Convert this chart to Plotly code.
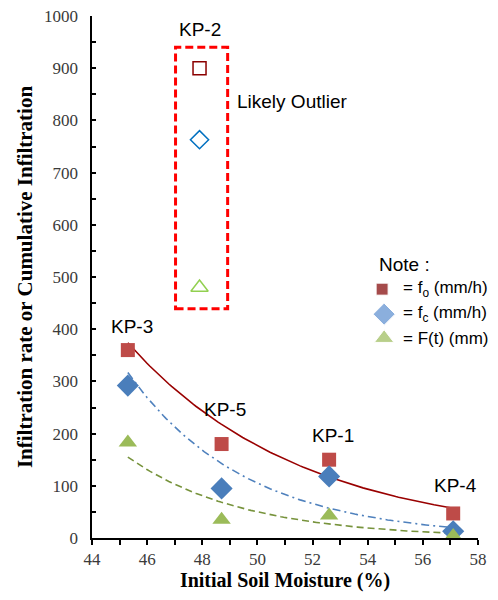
import numpy as np
import plotly.graph_objects as go

# ---- data ----
sites = ["KP-3", "KP-5", "KP-1", "KP-4"]
moisture = [45.3, 48.7, 52.6, 57.1]
f_o = [360, 180, 150, 47]          # initial infiltration rate (mm/h)
f_c = [292, 95, 118, 13]           # final infiltration rate (mm/h)
F_t = [183, 35, 43, 4]             # cumulative infiltration (mm)

outlier_site = "KP-2"
outlier_moisture = [47.9]
outlier_f_o = [900]
outlier_f_c = [763]
outlier_F_t = [480]

# exponential trend lines  y = a * exp(b * (x - x0))
trend_x0, trend_x1 = 45.3, 57.1
trend_fo = (374, -0.1594)
trend_fc = (317, -0.235)
trend_F = (155, -0.241)

# site label positions (data units)
label_x = [45.45, 48.82, 52.75, 57.17]
label_y = [406, 247, 197, 101]

# "Note :" key
note_labels = ["= f<sub>o</sub> (mm/h)", "= f<sub>c</sub> (mm/h)", "= F(t) (mm)"]
note_symbols = ["square", "diamond", "triangle-up"]
note_colors = ["#800000", "#5B8ED0", "#9BBB59"]
note_sizes = [12, 17, 17]

# ---- layout positions for the key (paper units) ----
note_title_pos = (0.7386, 0.5246)
note_key_x = [0.7516, 0.7568, 0.7568]
note_row_y = [0.4767, 0.4288, 0.3828]
note_text_x = 0.800

fig = go.Figure()
xs = np.linspace(trend_x0, trend_x1, 120)


def trend(p):
    a, b = p
    return a * np.exp(b * (xs - trend_x0))


fig.add_trace(go.Scatter(x=xs, y=trend(trend_fo), mode="lines", showlegend=False,
                         line=dict(color="#990000", width=1.6), hoverinfo="skip"))
fig.add_trace(go.Scatter(x=xs, y=trend(trend_fc), mode="lines", showlegend=False,
                         line=dict(color="#4F81BD", width=1.6, dash="8px,4px,2px,4px"), hoverinfo="skip"))
fig.add_trace(go.Scatter(x=xs, y=trend(trend_F), mode="lines", showlegend=False,
                         line=dict(color="#77933C", width=1.6, dash="7px,4px"), hoverinfo="skip"))

fig.add_trace(go.Scatter(x=moisture, y=f_o, mode="markers", showlegend=False, text=sites,
                         marker=dict(symbol="square", size=14, color="#BE4B48")))
fig.add_trace(go.Scatter(x=moisture, y=f_c, mode="markers", showlegend=False, text=sites,
                         marker=dict(symbol="diamond", size=17, color="#4A7EBB")))
fig.add_trace(go.Scatter(x=moisture, y=F_t, mode="markers", showlegend=False, text=sites,
                         marker=dict(symbol="triangle-up", size=16, color="#9BBB59")))

fig.add_trace(go.Scatter(x=outlier_moisture, y=outlier_f_o, mode="markers", showlegend=False,
                         marker=dict(symbol="square-open", size=13, color="#8B0000", line=dict(width=1.5))))
fig.add_trace(go.Scatter(x=outlier_moisture, y=outlier_f_c, mode="markers", showlegend=False,
                         marker=dict(symbol="diamond-open", size=14, color="#0070C0", line=dict(width=1.5))))
fig.add_trace(go.Scatter(x=outlier_moisture, y=outlier_F_t, mode="markers", showlegend=False,
                         marker=dict(symbol="triangle-up-open", size=15, color="#92D050", line=dict(width=1.5))))

# key symbols on an overlay axis in paper units
fig.add_trace(go.Scatter(x=note_key_x, y=note_row_y, xaxis="x2", yaxis="y2", mode="markers",
                         showlegend=False, hoverinfo="skip", cliponaxis=False,
                         marker=dict(symbol=note_symbols, size=note_sizes, color=note_colors)))

# outlier box
fig.add_shape(type="rect", x0=47.03, x1=48.92, y0=439, y1=940, xref="x", yref="y",
              line=dict(color="#FF0000", width=3, dash="8px,4px"))

ann_font = dict(family="Liberation Sans, Arial", size=19, color="#000000")
for s, x, y in zip(sites, label_x, label_y):
    fig.add_annotation(x=x, y=y, text=s, showarrow=False, font=ann_font)
fig.add_annotation(x=outlier_moisture[0], y=974, text=outlier_site, showarrow=False, font=ann_font)
fig.add_annotation(x=49.2, y=836, text="Likely Outlier", showarrow=False, font=ann_font,
                   xanchor="left")
fig.add_annotation(x=note_title_pos[0], y=note_title_pos[1], xref="paper", yref="paper",
                   text="Note :", showarrow=False, font=ann_font, xanchor="left", yanchor="middle")
for t, y in zip(note_labels, note_row_y):
    fig.add_annotation(x=note_text_x, y=y, xref="paper", yref="paper", text=t, showarrow=False,
                       font=dict(family="Liberation Sans, Arial", size=17, color="#000000"),
                       xanchor="left", yanchor="middle")

tick_font = dict(family="Liberation Serif, Times New Roman", size=17, color="#3a3a3a")

# the page body adds an 8px margin, so the figure is sized to fit inside it
fig.update_layout(
    width=482, height=584,
    margin=dict(l=84, r=12, t=8, b=54, autoexpand=False),
    paper_bgcolor="white", plot_bgcolor="white",
    showlegend=False,
    xaxis=dict(range=[44, 58], dtick=2, tick0=44, showgrid=False, zeroline=False,
               showline=True, linecolor="black", linewidth=2, automargin=False,
               ticks="outside", ticklen=5, tickwidth=2, tickcolor="black",
               minor=dict(dtick=1, ticks="outside", ticklen=5, tickwidth=2, tickcolor="black"),
               tickfont=tick_font, ticklabeloverflow="allow",
               title=dict(text="<b>Initial Soil Moisture (%)</b>",
                          font=dict(family="Liberation Serif, Times New Roman", size=20, color="#000"),
                          standoff=14)),
    yaxis=dict(range=[0, 1000], dtick=100, showgrid=False, zeroline=False,
               showline=True, linecolor="black", linewidth=2, automargin=False,
               ticks="inside", ticklen=4, tickwidth=2, tickcolor="black",
               minor=dict(dtick=50, ticks="inside", ticklen=4, tickwidth=2, tickcolor="black"),
               tickfont=tick_font, ticklabeloverflow="allow", ticksuffix="\u2002",
               title=dict(text="<b>Infiltration rate or Cumulative Infiltration</b>",
                          font=dict(family="Liberation Serif, Times New Roman", size=21, color="#000"),
                          standoff=6)),
    xaxis2=dict(range=[0, 1], overlaying="x", visible=False, fixedrange=True),
    yaxis2=dict(range=[0, 1], overlaying="y", visible=False, fixedrange=True),
)

fig.write_html("out.html")
